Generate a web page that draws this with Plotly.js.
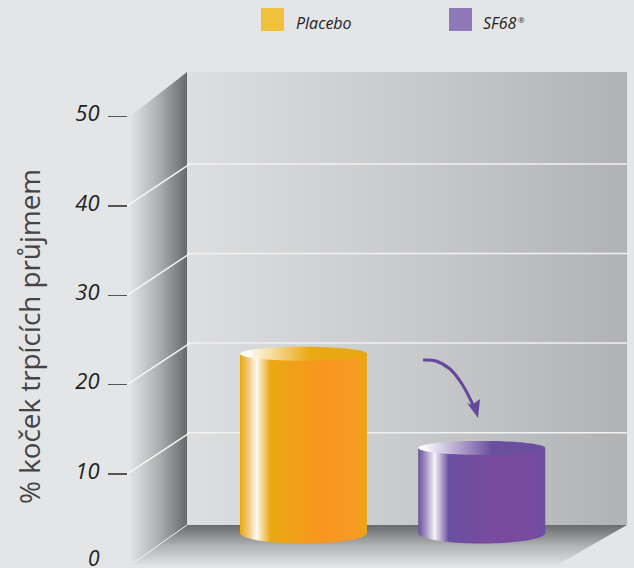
<!DOCTYPE html>
<html><head><meta charset="utf-8">
<script src="https://cdn.plot.ly/plotly-3.0.1.min.js"></script>
<style>html,body{margin:0;padding:0;background:#e4e5e7}#c{width:634px;height:568px}</style>
</head><body><div id="c"></div>
<script>
// ---- data ----
const categories = ['Placebo', 'SF68'];
const values = [20, 9.5];
const tickVals = [10, 20, 30, 40, 50];
const gridVals = [10, 20, 30, 40];
const axisTitle = '% koček trpících průjmem';
const barCenters = [303.5, 481.75];
const legendX = [272.5, 460.5];
const legendText = ['Placebo', 'SF68'];
const legendTextX = [293.5, 481];
const swatchColors = ['#f0c23c', '#8f78b8'];
const bodyScales = [
  [[0,'#e8a812'],[0.065,'#f0c879'],[0.13,'#fff9ef'],[0.24,'#e9a912'],[0.63,'#f8961f'],[0.9,'#f89a24'],[1,'#e8a712']],
  [[0,'#6a4f9f'],[0.065,'#a99bca'],[0.13,'#f4f2f8'],[0.24,'#6a4f9f'],[0.63,'#7a4a9e'],[0.9,'#774b9f'],[1,'#6a4f9f']]
];
const capScales = [
  [[0,'#ffffff'],[0.06,'#fffdf8'],[0.55,'#e9a912'],[1,'#e8a812']],
  [[0,'#ffffff'],[0.06,'#f8f7fb'],[0.58,'#6a4f9f'],[1,'#6a4f9f']]
];
// ---- scene geometry (pixels on the hidden x axis, value scale on y) ----
const W = 634, H = 568;
const wallL = 187, wallR = 627, sideL = 130, floorFrontR = 557;
const backZero = 522.3, backUnit = 8.96;   // back wall scale
const frontZero = 563.5, frontUnit = 8.94; // front edge scale
const toBack = px => (backZero - px) / backUnit;            // pixel row -> main y value
const frontAsBack = v => toBack(frontZero - frontUnit * v); // front-edge value on main y
const barHalf = 63.5, baseOffset = toBack(533), topRy = 7 / backUnit, botRy = 10.5 / backUnit;

const traces = [];
const poly = (name, xs, ys, gradient) => traces.push({
  type: 'scatter', mode: 'none', name, x: xs, y: ys, fill: 'toself', fillgradient: gradient,
  hoverinfo: 'skip', showlegend: false
});
const line = (name, xs, ys, color, width, shape) => traces.push({
  type: 'scatter', mode: 'lines', name, x: xs, y: ys, hoverinfo: 'skip', showlegend: false,
  line: {color, width, shape: shape || 'linear'}
});
const wallTop = toBack(72), wallBottom = toBack(525), floorFront = toBack(565);
// back wall
poly('wall', [wallL, wallR, wallR, wallL, wallL], [wallTop, wallTop, wallBottom, wallBottom, wallTop],
  {type:'horizontal', colorscale:[[0,'#dddedf'],[0.5,'#c9cacc'],[1,'#b1b2b4']]});
// side wall
poly('side', [sideL, wallL, wallL, sideL, sideL],
  [frontAsBack(50), wallTop, wallBottom, floorFront, frontAsBack(50)],
  {type:'horizontal', colorscale:[[0,'#e2e3e4'],[0.5,'#aeafb1'],[1,'#68696b']]});
// floor
poly('floor', [wallL, wallR, floorFrontR, sideL, wallL], [wallBottom, wallBottom, floorFront, floorFront, wallBottom],
  {type:'vertical', colorscale:[[0,'#dfe0e2'],[0.45,'#b5b6b8'],[1,'#696a6c']]});
// grid lines
gridVals.forEach(v => {
  line('grid back', [wallL, wallR], [v, v], '#f1f1f2', 1.5);
  line('grid side', [127, wallL + 3], [frontAsBack(v), v], '#f6f6f6', 1.5);
});
line('floor edge', [sideL + 2, wallL], [toBack(564), wallBottom], '#f0f0f1', 1);
// cylinders
const arc = (cx, cy, ry, from, to) => {
  const xs = [], ys = [];
  for (let i = 0; i <= 48; i++) {
    const a = from + (to - from) * i / 48;
    xs.push(cx + barHalf * Math.cos(a)); ys.push(cy + ry * Math.sin(a));
  }
  return [xs, ys];
};
categories.forEach((c, i) => {
  const cx = barCenters[i], top = baseOffset + values[i];
  const [bx, by] = arc(cx, baseOffset, botRy, 0, -Math.PI);
  const bodyX = [cx - barHalf, cx + barHalf].concat(bx, [cx - barHalf]);
  const bodyY = [top, top].concat(by, [top]);
  poly(c, bodyX, bodyY, {type:'horizontal', colorscale: bodyScales[i]});
  const [tx, ty] = arc(cx, top, topRy, 0, 2 * Math.PI);
  poly(c + ' top', tx, ty, {type:'horizontal', colorscale: capScales[i]});
});
// arrow
const arrowColor = '#65479f';
line('arrow', [423, 436, 450, 462, 473], [360, 361, 369, 384, 405].map(toBack), arrowColor, 3, 'spline');
traces.push({type:'scatter', mode:'none', name:'arrow head', x:[478, 467, 472, 480, 478],
  y:[418, 403, 405, 399, 418].map(toBack), fill:'toself', fillcolor:arrowColor, hoverinfo:'skip', showlegend:false});
// legend swatches
traces.push({type:'scatter', mode:'markers', name:'legend', x: legendX, y: [toBack(19.5), toBack(19.5)],
  marker:{symbol:'square', size:23, color:swatchColors, line:{width:0}}, hoverinfo:'skip', showlegend:false});
// carrier of the front value axis
traces.push({type:'scatter', mode:'markers', x:[0], y:[0], yaxis:'y2', marker:{opacity:0}, hoverinfo:'skip', showlegend:false});

const annotations = legendText.map((t, i) => ({
  xref:'x', yref:'y', x: legendTextX[i], y: toBack(22.5), xanchor:'left', yanchor:'middle', showarrow:false,
  text:'<i>' + t + '</i>', font:{family:'Open Sans', size:16, color:'#222'}
}));
annotations.push({xref:'x', yref:'y', x: 516, y: toBack(19), xanchor:'left', yanchor:'middle', showarrow:false,
  text:'®', font:{family:'Open Sans', size:8, color:'#333'}});
annotations.push({xref:'x', yref:'y', x: 29, y: toBack(337), xanchor:'center', yanchor:'middle', showarrow:false,
  textangle:-90, text: axisTitle, font:{family:'Open Sans', size:27.8, color:'#444'}});
annotations.push({xref:'x', yref:'y', x: 102, y: toBack(557.5), xanchor:'right', yanchor:'middle', showarrow:false,
  text:'<i>0</i>', font:{family:'Open Sans', size:21, color:'#222'}});

const layout = {
  width: W, height: H, margin:{l:0, r:0, t:0, b:0}, paper_bgcolor:'#e4e5e7', plot_bgcolor:'rgba(0,0,0,0)',
  showlegend:false,
  xaxis:{range:[0, W], visible:false, fixedrange:true},
  yaxis:{range:[toBack(H), toBack(0)], visible:false, fixedrange:true},
  yaxis2:{overlaying:'y', anchor:'free', side:'left', position:127/W,
    range:[(frontZero - H)/frontUnit, frontZero/frontUnit],
    tickmode:'array', tickvals: tickVals, ticktext: tickVals.map(v => '<i>' + v + '</i>'),
    ticks:'outside', ticklen:19, tickwidth:1.3, tickcolor:'#555', ticklabelstandoff:4, ticklabelshift:-3,
    showgrid:false, zeroline:false, showline:false, fixedrange:true,
    tickfont:{family:'Open Sans', size:22, color:'#222'}},
  annotations
};
Plotly.newPlot('c', traces, layout, {displayModeBar:false, staticPlot:true});
</script></body></html>
